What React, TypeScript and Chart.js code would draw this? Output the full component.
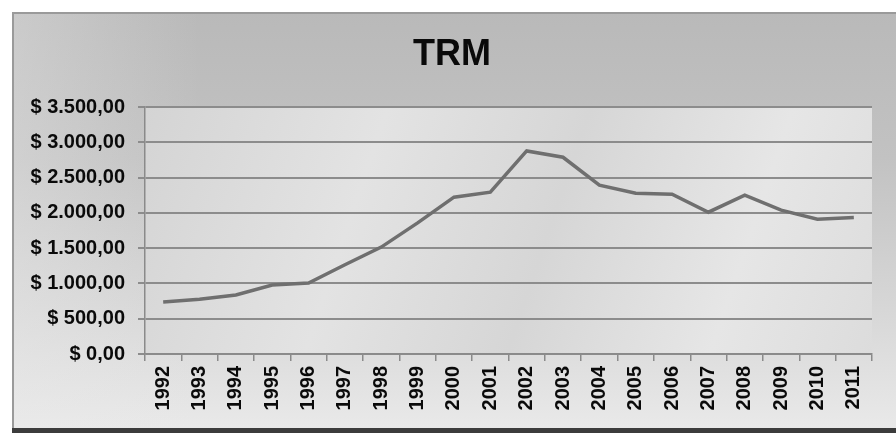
import React, { useEffect, useRef } from "react";
import { Chart, registerables } from "chart.js";

Chart.register(...registerables);

const years: string[] = [
  "1992", "1993", "1994", "1995", "1996", "1997", "1998", "1999", "2000", "2001",
  "2002", "2003", "2004", "2005", "2006", "2007", "2008", "2009", "2010", "2011",
];
const trmValues: number[] = [
  737, 775, 836, 977, 1006, 1265, 1516, 1860, 2224, 2295,
  2880, 2790, 2394, 2280, 2266, 2011, 2252, 2040, 1912, 1935,
];
const yMin = 0;
const yMax = 3500;
const yStep = 500;
const chartTitle = "TRM";

function formatPesos(v: number): string {
  const fixed = v.toFixed(2);
  const [intPart, dec] = fixed.split(".");
  const withDots = intPart.replace(/\B(?=(\d{3})+(?!\d))/g, ".");
  return "$ " + withDots + "," + dec;
}

const backgroundPlugin = {
  id: "bgPlugin",
  beforeDraw(chart: any) {
    const { ctx, width, height, chartArea } = chart;
    ctx.save();
    ctx.fillStyle = "#ffffff";
    ctx.fillRect(0, 0, width, height);
    // outer chart background
    const g = ctx.createLinearGradient(0, 12, 0, 428);
    g.addColorStop(0, "#b9b9b9");
    g.addColorStop(0.35, "#c2c2c2");
    g.addColorStop(0.75, "#d9d9d9");
    g.addColorStop(1, "#e9e9e9");
    ctx.fillStyle = g;
    ctx.fillRect(12, 12, width - 12, 416);
    const g2 = ctx.createLinearGradient(12, 0, 200, 0);
    g2.addColorStop(0, "rgba(235,235,235,0.35)");
    g2.addColorStop(1, "rgba(235,235,235,0)");
    ctx.fillStyle = g2;
    ctx.fillRect(12, 12, 190, 416);
    // frame
    ctx.strokeStyle = "#9a9a9a";
    ctx.lineWidth = 2;
    ctx.beginPath();
    ctx.moveTo(13, 430);
    ctx.lineTo(13, 13);
    ctx.lineTo(width, 13);
    ctx.stroke();
    ctx.fillStyle = "#3c3c3c";
    ctx.fillRect(12, 428, width - 12, 5);
    // plot area
    const { left, top, right, bottom } = chartArea;
    const pg = ctx.createLinearGradient(left, top, right, bottom);
    pg.addColorStop(0, "#d4d4d4");
    pg.addColorStop(0.3, "#e3e3e3");
    pg.addColorStop(0.55, "#d6d6d6");
    pg.addColorStop(0.8, "#e6e6e6");
    pg.addColorStop(1, "#dcdcdc");
    ctx.fillStyle = pg;
    ctx.fillRect(left, top, right - left, bottom - top);
    ctx.restore();
  },
};

export default function App() {
  const canvasRef = useRef<HTMLCanvasElement | null>(null);

  useEffect(() => {
    if (!canvasRef.current) return;
    const chart = new Chart(canvasRef.current, {
      type: "line",
      data: {
        labels: years,
        datasets: [
          {
            label: chartTitle,
            data: trmValues,
            borderColor: "#6f6f6f",
            borderWidth: 3.5,
            pointRadius: 0,
            tension: 0,
            fill: false,
            yAxisID: "y",
          },
        ],
      },
      options: {
        responsive: false,
        animation: false,
        layout: { padding: { left: 16, right: 8, top: 0, bottom: 0 } },
        plugins: {
          legend: { display: false },
          tooltip: { enabled: false },
          title: {
            display: true,
            text: chartTitle,
            color: "#0a0a0a",
            font: { family: "'Liberation Sans', Arial, sans-serif", size: 36, weight: "bold", lineHeight: 1.2 },
            padding: { top: 33, bottom: 31 },
          },
        },
        scales: {
          x: {
            type: "category",
            offset: true,
            grid: {
              offset: true,
              drawOnChartArea: false,
              drawTicks: true,
              tickLength: 7,
              color: "#8a8a8a",
              lineWidth: 1.5,
            },
            border: { display: true, color: "#8a8a8a", width: 1.5 },
            ticks: {
              minRotation: 90,
              maxRotation: 90,
              autoSkip: false,
              padding: 5,
              color: "#0a0a0a",
              font: { family: "'Liberation Sans', Arial, sans-serif", size: 20, weight: "bold" },
            },
            afterFit(scale: any) {
              scale.height = 79;
            },
          },
          y: {
            type: "linear",
            position: "left",
            min: yMin,
            max: yMax,
            ticks: {
              stepSize: yStep,
              padding: 13,
              color: "#0a0a0a",
              font: { family: "'Liberation Sans', Arial, sans-serif", size: 20, weight: "bold" },
              callback: (v: any) => formatPesos(Number(v)),
            },
            grid: {
              drawOnChartArea: true,
              drawTicks: true,
              tickLength: 7,
              color: "#8c8c8c",
              lineWidth: 2,
            },
            border: { display: true, color: "#8a8a8a", width: 1.5 },
            afterFit(scale: any) {
              scale.width = 129;
            },
          },
          y2: {
            type: "linear",
            position: "right",
            min: 0,
            max: 1,
            ticks: { display: false },
            grid: { display: false, drawTicks: false },
            border: { display: false },
            afterFit(scale: any) {
              scale.width = 16;
            },
          },
        },
      },
      plugins: [backgroundPlugin],
    });
    return () => chart.destroy();
  }, []);

  return (
    <div style={{ position: "fixed", left: 0, top: 0, width: 896, height: 433 }}>
      <canvas ref={canvasRef} width={896} height={433} style={{ display: "block" }} />
    </div>
  );
}
